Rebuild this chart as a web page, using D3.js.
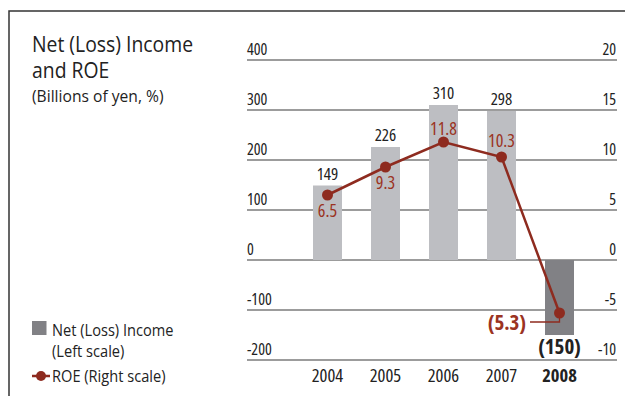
<!DOCTYPE html>
<html>
<head>
<meta charset="utf-8">
<script src="https://cdn.jsdelivr.net/npm/d3@7"></script>
<style>
  html, body { margin: 0; padding: 0; background: #fff; }
  svg { display: block; }
  text { font-family: "Open Sans", "Noto Sans", sans-serif; }
  text.narrow { font-stretch: 75%; }
</style>
</head>
<body>
<svg id="chart" width="625" height="396"></svg>
<script>
// Fiscal years
const years = ["2004", "2005", "2006", "2007", "2008"];
// Net (loss) income, billions of yen (left scale)
const netIncome = [149, 226, 310, 298, -150];
// Return on equity, % (right scale)
const roe = [6.5, 9.3, 11.8, 10.3, -5.3];
// Axis ticks
const leftTicks = [400, 300, 200, 100, 0, -100, -200];
const rightTicks = [20, 15, 10, 5, 0, -5, -10];

const barLabels = ["149", "226", "310", "298", "(150)"];
const roeLabels = ["6.5", "9.3", "11.8", "10.3", "(5.3)"];

const svg = d3.select("#chart");
const W = 625, H = 396;

const plotLeft = 247, plotRight = 617;
const yL = d3.scaleLinear().domain([-200, 400]).range([360, 60]);
const yR = d3.scaleLinear().domain([-10, 20]).range([360, 60]);
const x = d3.scaleBand().domain(years).range([298.5, 588.5]).paddingInner(0.5).paddingOuter(0.25);

const red = "#8e2b1f";
const labelRed = "#9b3322";
const ink = "#222";
const gridCol = "#3a3a3a";

// horizontally tightened text (semi-condensed look)
function tightText(g, tx, ty, size, str, sx) {
  return g.append("text")
    .attr("transform", `translate(${tx},${ty}) scale(${sx},1)`)
    .attr("font-size", size).attr("fill", ink).text(str);
}

// frame
svg.append("path")
  .attr("d", `M9,${H} L9,11 L${W},11`)
  .attr("fill", "none").attr("stroke", "#333").attr("stroke-width", 1.5);

// title
const title = svg.append("g");
tightText(title, 32, 52, 22, "Net (Loss) Income", 0.88);
tightText(title, 32, 78, 22, "and ROE", 0.88);
tightText(title, 32, 102, 17, "(Billions of yen, %)", 0.92);

// gridlines
svg.append("g").selectAll("line").data(leftTicks).join("line")
  .attr("x1", plotLeft).attr("x2", plotRight)
  .attr("y1", d => yL(d)).attr("y2", d => yL(d))
  .attr("stroke", gridCol).attr("stroke-width", 1.2);

// left axis labels
svg.append("g").selectAll("text").data(leftTicks).join("text")
  .attr("class", "narrow")
  .attr("x", plotLeft).attr("y", d => yL(d) - 5)
  .attr("font-size", 16).attr("fill", ink)
  .text(d => d);

// right axis labels
svg.append("g").selectAll("text").data(rightTicks).join("text")
  .attr("class", "narrow")
  .attr("x", 616).attr("y", d => yR(d) - 5)
  .attr("text-anchor", "end")
  .attr("font-size", 16).attr("fill", ink)
  .text(d => d);

// bars
svg.append("g").selectAll("rect").data(netIncome).join("rect")
  .attr("x", (d, i) => x(years[i]))
  .attr("width", x.bandwidth())
  .attr("y", d => yL(Math.max(0, d)))
  .attr("height", d => Math.abs(yL(d) - yL(0)))
  .attr("fill", d => d < 0 ? "#818185" : "#bdbec2");

// bar value labels
svg.append("g").selectAll("text").data(netIncome).join("text")
  .attr("class", "narrow")
  .attr("x", (d, i) => x(years[i]) + x.bandwidth() / 2)
  .attr("y", d => d >= 0 ? yL(d) - 6 : yL(d) + 19)
  .attr("text-anchor", "middle")
  .attr("font-size", (d) => d >= 0 ? 17 : 21)
  .attr("font-weight", d => d >= 0 ? "normal" : "bold")
  .attr("fill", ink)
  .text((d, i) => barLabels[i]);

// year labels
svg.append("g").selectAll("text").data(years).join("text")
  .attr("class", "narrow")
  .attr("x", d => x(d) + x.bandwidth() / 2)
  .attr("y", 382)
  .attr("text-anchor", "middle")
  .attr("font-size", 18.5)
  .attr("font-weight", (d, i) => i === years.length - 1 ? "bold" : "normal")
  .attr("fill", ink)
  .text(d => d);

// ROE line
const cx = i => x(years[i]) + x.bandwidth() / 2;
const line = d3.line().x((d, i) => cx(i)).y(d => yR(d));
svg.append("path").datum(roe)
  .attr("d", line)
  .attr("fill", "none").attr("stroke", red).attr("stroke-width", 2.5);

// leader for the negative ROE label
const last = roe.length - 1;
svg.append("path")
  .attr("d", `M530,${yR(roe[last]) + 9} H${cx(last)} V${yR(roe[last])}`)
  .attr("fill", "none").attr("stroke", red).attr("stroke-width", 1.3);

svg.append("g").selectAll("circle").data(roe).join("circle")
  .attr("cx", (d, i) => cx(i)).attr("cy", d => yR(d)).attr("r", 5.5)
  .attr("fill", red);

// ROE value labels
const roeOffsets = [22, 22, -7, -10];
svg.append("g").selectAll("text").data(roe.slice(0, last)).join("text")
  .attr("class", "narrow")
  .attr("x", (d, i) => cx(i))
  .attr("y", (d, i) => yR(d) + roeOffsets[i])
  .attr("text-anchor", "middle")
  .attr("font-size", 18).attr("fill", labelRed)
  .text((d, i) => roeLabels[i]);
svg.append("text")
  .attr("class", "narrow")
  .attr("x", 526).attr("y", yR(roe[last]) + 17)
  .attr("text-anchor", "end")
  .attr("font-size", 21).attr("font-weight", "bold").attr("fill", labelRed)
  .text(roeLabels[last]);

// legend
const lg = svg.append("g");
lg.append("rect").attr("x", 32).attr("y", 321).attr("width", 14.5).attr("height", 14).attr("fill", "#818185");
tightText(lg, 52, 336, 17, "Net (Loss) Income", 0.86);
tightText(lg, 52, 357, 17, "(Left scale)", 0.86);
lg.append("line").attr("x1", 32).attr("x2", 50).attr("y1", 376).attr("y2", 376).attr("stroke", red).attr("stroke-width", 2.5);
lg.append("circle").attr("cx", 41).attr("cy", 376).attr("r", 5).attr("fill", red);
tightText(lg, 52, 382, 17, "ROE (Right scale)", 0.86);
</script>
</body>
</html>
